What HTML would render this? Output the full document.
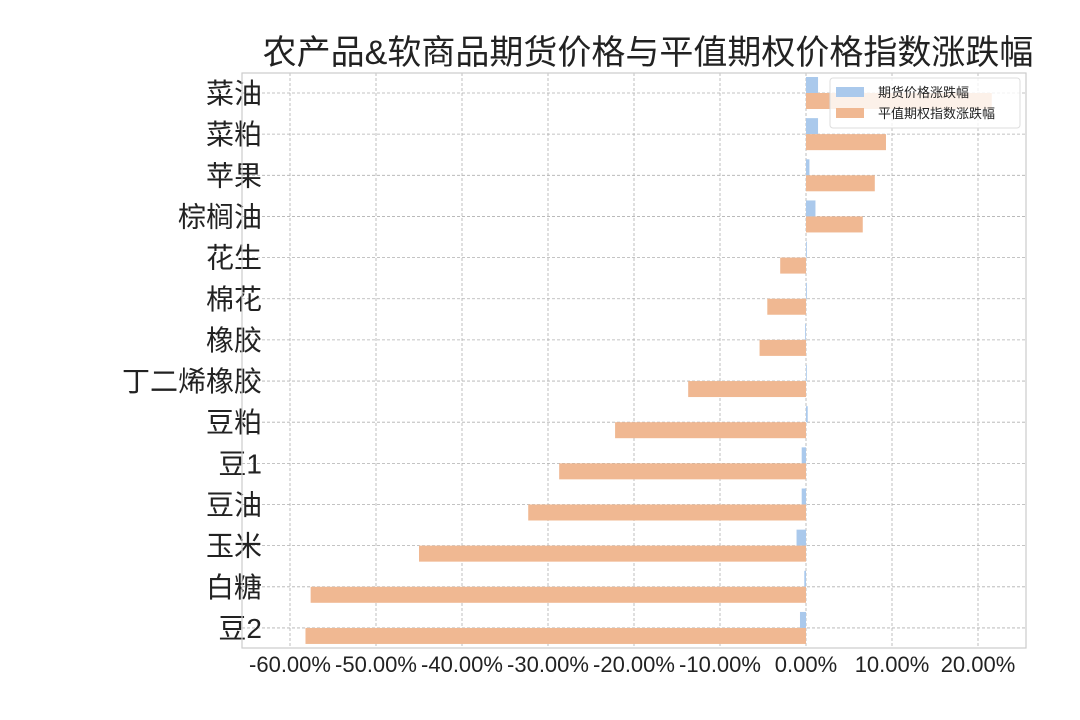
<!DOCTYPE html>
<html><head><meta charset="utf-8"><style>
body{margin:0;background:#fff;}
svg{display:block;font-family:"Liberation Sans","Noto Sans CJK SC",sans-serif;}
</style></head><body>
<svg id="chart" width="1080" height="720" xmlns="http://www.w3.org/2000/svg">
<rect width="1080" height="720" fill="#fff"/>
<text x="648" y="64" text-anchor="middle" font-size="34" fill="#222">农产品&amp;软商品期货价格与平值期权价格指数涨跌幅</text>
<g id="grid"></g><g id="bars"></g><g id="labels"></g>
<rect x="242" y="73" width="784" height="575" fill="none" stroke="#ccc" stroke-width="1.2"/>
<g>
<rect x="830" y="78" width="190" height="50" rx="3" fill="#fff" fill-opacity="0.8" stroke="#ddd"/>
<rect x="836" y="87" width="28" height="10" fill="#aac9ec"/>
<text x="878" y="97" font-size="13" fill="#222">期货价格涨跌幅</text>
<rect x="836" y="108" width="28" height="10" fill="#f0b892"/>
<text x="878" y="118" font-size="13" fill="#222">平值期权指数涨跌幅</text>
</g>
</svg>
<script>
const categories=["菜油","菜粕","苹果","棕榈油","花生","棉花","橡胶","丁二烯橡胶","豆粕","豆1","豆油","玉米","白糖","豆2"];
const futures=[1.4,1.4,0.4,1.1,0.1,0.1,-0.1,0.0,0.2,-0.5,-0.5,-1.1,-0.2,-0.7];
const options=[21.6,9.3,8.0,6.6,-3.0,-4.5,-5.4,-13.7,-22.2,-28.7,-32.3,-45.0,-57.6,-58.2];
const xticks=[-60,-50,-40,-30,-20,-10,0,10,20];
const NS="http://www.w3.org/2000/svg";
const x=v=>806+v*8.6;
const y=i=>93+i*41.15;
function mk(tag,attrs,parent,txt){const e=document.createElementNS(NS,tag);for(const k in attrs)e.setAttribute(k,attrs[k]);if(txt!==undefined)e.textContent=txt;parent.appendChild(e);return e;}
const grid=document.getElementById('grid'),bars=document.getElementById('bars'),labels=document.getElementById('labels');
xticks.forEach(t=>{
 const l=mk('line',{x1:x(t),x2:x(t),y1:73,y2:648,stroke:'#b0b0b0','stroke-dasharray':'3,2','stroke-width':0.8},grid);
 
 
 const tx=mk('text',{x:x(t),y:672,'text-anchor':'middle','font-size':22,fill:'#222'},labels,t.toFixed(2)+'%');
 
 
});
categories.forEach((c,i)=>{
 const l=mk('line',{x1:242,x2:1026,y1:y(i),y2:y(i),stroke:'#b0b0b0','stroke-dasharray':'3,2','stroke-width':0.8},grid);
 
 
 const tx=mk('text',{x:262,y:y(i)+10,'text-anchor':'end','font-size':28,fill:'#222'},labels,c);
 
 
 const f=futures[i],o=options[i];
 const b1=mk('rect',{x:Math.min(x(0),x(f)),y:y(i)-16,width:Math.max(Math.abs(x(f)-x(0)),0.8),height:16,fill:'#aac9ec'},bars);
 
 
 const b2=mk('rect',{x:Math.min(x(0),x(o)),y:y(i),width:Math.abs(x(o)-x(0)),height:16,fill:'#f0b892'},bars);
 
 
});
</script>
</body></html>
